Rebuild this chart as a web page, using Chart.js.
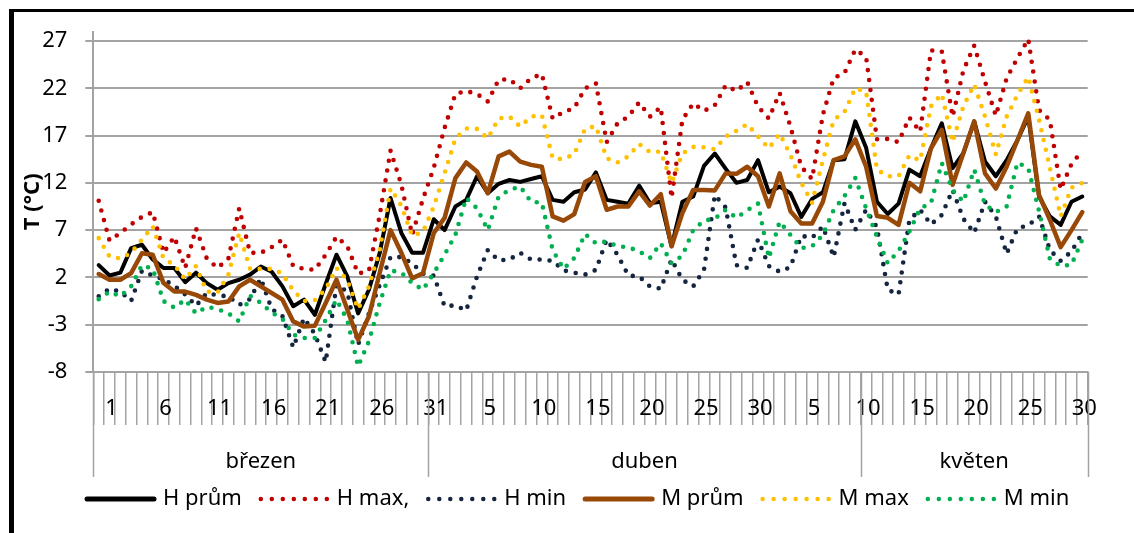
<!DOCTYPE html>
<html lang="cs">
<head>
<meta charset="utf-8">
<title>Teploty březen – květen</title>
<script src="https://cdn.jsdelivr.net/npm/chart.js@4/dist/chart.umd.min.js"></script>
<style>
  html, body { margin: 0; padding: 0; background: #fff; }
  #wrap { width: 1134px; height: 533px; position: relative; }
</style>
</head>
<body>
<div id="wrap"><canvas id="chart"></canvas></div>
<script>
// month groups as they sit in the source sheet (shifted by one row against the days)
const MONTH_NAMES = ["březen", "duben", "květen"];
const MONTH_SPANS = [31, 40, 21];
const MONTH_DAYS = [31, 30, 30];
const Y_TICKS = [-8, -3, 2, 7, 12, 17, 22, 27];

// one empty leading row, then 1.3. – 30.5.
const DAYS = [""];
MONTH_DAYS.forEach(n => { for (let d = 1; d <= n; d++) DAYS.push(String(d)); });

const H_PRUM = [
  3.3, 2.2, 2.5, 5.1, 5.45, 3.9, 3.0, 3.0, 1.5, 2.5,
  1.4, 0.7, 1.4, 1.75, 2.3, 3.15, 2.6, 1.05, -1.05, -0.35,
  -1.95, 1.3, 4.4, 2.1, -1.8, 0.7, 4.6, 10.4, 6.7, 4.6,
  4.6, 8.15, 7.0, 9.5, 10.2, 12.7, 10.9, 11.9, 12.3, 12.1,
  12.4, 12.7, 10.2, 10.0, 11.0, 11.3, 13.1, 10.2, 10.0, 9.8,
  11.7, 9.85, 10.0, 5.3, 10.0, 10.55, 13.8, 15.1, 13.5, 12.0,
  12.3, 14.4, 11.0, 11.6, 10.9, 8.4, 10.3, 11.0, 14.4, 14.5,
  18.5, 15.7, 10.0, 8.7, 9.8, 13.4, 12.7, 15.65, 18.3, 13.55,
  15.15, 18.5, 14.25, 12.7, 14.4, 16.5, 19.0, 10.55, 8.45, 7.55,
  10.0, 10.55
];
const H_MAX = [
  10.1, 5.9, 6.7, 7.6, 8.4, 8.9, 4.6, 6.3, 3.0, 7.2,
  4.0, 3.0, 4.0, 9.3, 4.6, 4.6, 5.2, 6.0, 3.2, 2.9,
  2.8, 4.4, 6.3, 5.3, 2.4, 2.7, 8.6, 15.4, 11.8, 6.5,
  10.3, 13.6, 17.8, 21.4, 21.7, 21.4, 20.6, 22.9, 22.95, 22.0,
  23.05, 23.5, 18.8, 19.5, 19.9, 22.0, 22.5, 16.3, 18.3, 19.0,
  20.5, 19.0, 20.0, 10.4, 18.65, 20.4, 19.6, 20.2, 22.3, 21.7,
  22.65, 20.05, 18.8, 21.5, 17.95, 13.7, 12.4, 19.2, 23.1, 23.6,
  26.1, 25.3, 16.6, 16.65, 16.3, 18.9, 17.4, 26.0, 25.9, 19.0,
  23.9, 26.5, 22.7, 19.1, 23.05, 25.2, 27.2, 19.7, 18.65, 11.3,
  14.0, 15.4
];
const H_MIN = [
  0.0, 0.8, 0.5, -0.5, 2.7, 2.2, 1.8, 1.1, 0.2, -1.0,
  0.35, 0.1, 0.0, -0.9, -0.3, 1.9, -1.35, -2.1, -5.4, -2.3,
  -4.0, -6.95, 1.2, 0.5, -5.1, -1.8, 1.2, 4.15, 4.15, 3.5,
  2.4, 2.2, -1.05, -0.95, -1.5, 2.1, 4.9, 3.8, 3.9, 4.6,
  3.9, 3.9, 3.75, 2.75, 2.5, 2.3, 2.8, 6.0, 4.4, 2.2,
  2.1, 1.05, 0.8, 3.9, 1.75, 1.05, 2.8, 10.7, 9.4, 3.3,
  3.0, 6.0, 3.2, 2.6, 3.1, 6.4, 6.2, 7.4, 4.15, 9.85,
  7.05, 9.15, 7.3, 0.7, 0.2, 8.1, 9.15, 7.6, 8.6, 11.25,
  8.2, 6.7, 10.0, 8.45, 4.5, 7.2, 7.5, 8.45, 4.9, 3.75,
  4.75, 6.7
];
const M_PRUM = [
  2.35, 1.75, 1.75, 2.45, 4.55, 4.4, 1.4, 0.5, 0.5, 0.15,
  -0.35, -0.7, -0.55, 1.05, 1.75, 1.05, 0.35, -0.35, -2.65, -3.2,
  -3.1, -0.7, 1.75, -1.4, -4.6, -2.1, 2.5, 7.0, 4.6, 1.9,
  2.45, 6.7, 8.3, 12.5, 14.15, 13.2, 10.9, 14.8, 15.3, 14.25,
  13.9, 13.7, 8.45, 8.0, 8.7, 12.1, 12.7, 9.15, 9.5, 9.5,
  11.1, 9.6, 10.8, 5.3, 8.8, 11.25, 11.25, 11.2, 13.0, 12.95,
  13.7, 12.7, 9.5, 13.0, 9.0, 7.7, 7.7, 10.0, 14.4, 14.8,
  16.6, 13.7, 8.5, 8.3, 7.55, 12.0, 11.1, 15.65, 17.6, 11.8,
  15.15, 18.5, 13.0, 11.4, 13.7, 16.5, 19.35, 10.7, 8.1, 5.2,
  7.0, 8.9
];
const M_MAX = [
  6.15, 4.2, 4.0, 4.6, 6.0, 7.4, 4.0, 3.3, 1.8, 3.2,
  0.5, 0.4, 2.3, 6.7, 2.9, 2.9, 2.9, 2.4, 0.6, -0.5,
  -0.4, 0.75, 3.0, 1.7, -1.35, 1.05, 4.9, 11.4, 9.6, 6.4,
  6.8, 9.5, 13.0, 16.7, 17.75, 17.7, 16.7, 18.8, 19.0, 17.95,
  19.0, 19.15, 14.6, 14.5, 15.05, 17.7, 18.0, 14.6, 14.15, 14.8,
  16.1, 15.25, 15.3, 12.0, 15.1, 15.8, 15.75, 15.55, 16.9, 17.5,
  18.2, 16.9, 15.65, 17.2, 14.95, 12.0, 9.9, 14.4, 18.65, 19.5,
  22.0, 21.65, 13.4, 12.7, 12.7, 14.9, 14.35, 20.1, 21.4, 16.3,
  20.1, 22.4, 19.0, 15.0, 19.0, 21.3, 23.2, 18.65, 13.6, 8.45,
  11.5, 12.0
];
const M_MIN = [
  -0.3, 0.5, 0.0, 1.05, 3.3, 2.9, -0.5, -1.2, -0.35, -1.8,
  -1.1, -1.35, -1.8, -2.65, 0.05, -0.7, -1.7, -2.4, -4.05, -4.4,
  -4.4, -2.5, -0.35, -2.5, -7.4, -4.75, -0.7, 2.75, 2.5, 1.4,
  0.7, 2.45, 4.4, 6.5, 10.4, 9.3, 7.0, 10.55, 11.25, 11.6,
  10.0, 9.9, 4.9, 2.9, 4.05, 6.6, 5.6, 5.8, 5.3, 5.2,
  4.75, 4.05, 5.6, 3.5, 4.3, 7.0, 8.0, 8.2, 9.15, 8.3,
  9.1, 9.8, 4.05, 7.9, 6.5, 5.1, 5.3, 6.5, 9.15, 10.6,
  12.5, 9.3, 6.3, 3.5, 4.8, 6.85, 9.3, 9.85, 14.1, 11.25,
  10.0, 13.4, 9.7, 8.9, 9.5, 14.15, 13.55, 9.0, 3.95, 3.2,
  3.35, 6.0
];

const FONT = "'Noto Sans', sans-serif";
const GRID = "#a3a3a3";

const SERIES = [
  { label: "H prům", data: H_PRUM, color: "#000000", dotted: false, width: 4 },
  { label: "H max,", data: H_MAX, color: "#c00000", dotted: true },
  { label: "H min", data: H_MIN, color: "#15243f", dotted: true },
  { label: "M prům", data: M_PRUM, color: "#984807", dotted: false, width: 4.5 },
  { label: "M max", data: M_MAX, color: "#ffc000", dotted: true },
  { label: "M min", data: M_MIN, color: "#00b050", dotted: true },
];

// white page + the black frame edges that show in the crop
const framePlugin = {
  id: "frame",
  beforeDraw(chart) {
    const ctx = chart.ctx;
    ctx.save();
    ctx.fillStyle = "#fff";
    ctx.fillRect(0, 0, chart.width, chart.height);
    ctx.fillStyle = "#000";
    ctx.fillRect(9, 9, 5, chart.height - 9);
    ctx.fillRect(9, 9, chart.width - 9, 3);
    ctx.restore();
  }
};

// second category level: month names with separators
const monthPlugin = {
  id: "months",
  afterDraw(chart) {
    const xs = chart.scales.x;
    const ctx = chart.ctx;
    const top = chart.chartArea.bottom;
    ctx.save();
    ctx.strokeStyle = GRID;
    ctx.lineWidth = 1.5;
    ctx.fillStyle = "#000";
    ctx.font = "22px " + FONT;
    ctx.textAlign = "center";
    ctx.textBaseline = "middle";
    let start = 0;
    const edges = [xs.getPixelForValue(-0.5)];
    MONTH_NAMES.forEach((name, i) => {
      const end = start + MONTH_SPANS[i];
      const x0 = xs.getPixelForValue(start - 0.5);
      const x1 = xs.getPixelForValue(end - 0.5);
      edges.push(x1);
      ctx.fillText(name, (x0 + x1) / 2, 462);
      start = end;
    });
    edges.forEach(x => {
      ctx.beginPath();
      ctx.moveTo(Math.round(x) + 0.5, top);
      ctx.lineTo(Math.round(x) + 0.5, 477);
      ctx.stroke();
    });
    ctx.restore();
  }
};

const legendPlugin = {
  id: "legendRow",
  afterDraw(chart) {
    const ctx = chart.ctx;
    const y = 499;
    let x = 85;
    ctx.save();
    ctx.font = "22px " + FONT;
    ctx.textBaseline = "middle";
    SERIES.forEach(s => {
      ctx.beginPath();
      ctx.strokeStyle = s.color;
      ctx.lineCap = "round";
      ctx.lineWidth = s.dotted ? 4.5 : 5;
      ctx.setLineDash(s.dotted ? [0, 11] : []);
      ctx.moveTo(x + 2, y);
      ctx.lineTo(x + 69, y);
      ctx.stroke();
      ctx.setLineDash([]);
      ctx.fillStyle = "#000";
      ctx.fillText(s.label, x + 78, y);
      x += 78 + ctx.measureText(s.label).width + 17;
    });
    ctx.restore();
  }
};

Chart.defaults.font.family = FONT;
Chart.defaults.font.size = 22;
Chart.defaults.color = "#000";

new Chart(document.getElementById("chart"), {
  type: "line",
  data: {
    labels: DAYS,
    datasets: SERIES.map((s, i) => ({
      label: s.label,
      data: s.data,
      borderColor: s.color,
      backgroundColor: s.color,
      borderWidth: s.dotted ? 4.6 : s.width,
      borderDash: s.dotted ? [0, 10] : [],
      borderCapStyle: "round",
      borderJoinStyle: "round",
      pointRadius: 0,
      tension: 0,
      order: SERIES.length - i,
    })),
  },
  options: {
    responsive: true,
    maintainAspectRatio: false,
    animation: false,
    layout: { padding: { left: 14, top: 31.5, right: 46.3, bottom: 0 } },
    plugins: { legend: { display: false }, tooltip: { enabled: false } },
    scales: {
      x: {
        offset: true,
        grid: { drawOnChartArea: false, offset: true, tickLength: 53, color: GRID, lineWidth: 1.5 },
        border: { color: GRID, width: 2 },
        ticks: {
          autoSkip: false,
          maxRotation: 0,
          padding: -29,
          labelOffset: 2,
          callback: (v, i) => ((i - 1) % 5 === 0 ? DAYS[i] : ""),
        },
        afterFit: s => { s.height = 161; },
      },
      y: {
        min: -8,
        max: 28,
        afterBuildTicks: s => { s.ticks = Y_TICKS.map(v => ({ value: v })); },
        grid: { color: GRID, lineWidth: 2, tickLength: 8 },
        border: { color: GRID, width: 2 },
        ticks: { padding: 18 },
        title: { display: true, text: "T (°C)", font: { weight: "bold", size: 22 }, padding: { top: 6, bottom: 0 } },
        afterFit: s => { s.width = 79.3; },
      },
    },
  },
  plugins: [framePlugin, monthPlugin, legendPlugin],
});
</script>
</body>
</html>
